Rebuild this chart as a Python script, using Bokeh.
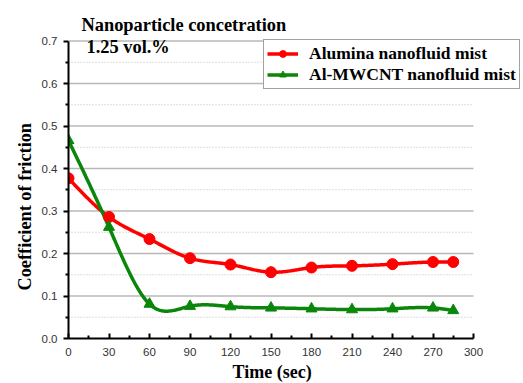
import numpy as np
from bokeh.plotting import figure
from bokeh.models import Range1d, Legend, LegendItem, Label, Title, FixedTicker, NumeralTickFormatter, ColumnDataSource
from bokeh.embed import file_html
from bokeh.resources import INLINE

time_sec = [0, 30, 60, 90, 120, 150, 180, 210, 240, 270, 285]
alumina = [0.377, 0.286, 0.234, 0.189, 0.174, 0.156, 0.167, 0.171, 0.175, 0.180, 0.180]
al_mwcnt = [0.466, 0.262, 0.081, 0.076, 0.075, 0.072, 0.070, 0.068, 0.070, 0.072, 0.066]
series_names = ["Alumina nanofluid mist", "Al-MWCNT nanofluid mist"]
x_ticks = [0, 30, 60, 90, 120, 150, 180, 210, 240, 270, 300]
x_minor = [15, 45, 75, 105, 135, 165, 195, 225, 255, 285]
y_ticks = [0.0, 0.1, 0.2, 0.3, 0.4, 0.5, 0.6, 0.7]
y_minor = [0.05, 0.15, 0.25, 0.35, 0.45, 0.55, 0.65]


def natural_spline(xs, ys, n=400):
    xs = np.asarray(xs, float)
    ys = np.asarray(ys, float)
    k = len(xs)
    h = np.diff(xs)
    A = np.zeros((k, k))
    b = np.zeros(k)
    A[0, 0] = 1
    A[-1, -1] = 1
    for i in range(1, k - 1):
        A[i, i - 1] = h[i - 1]
        A[i, i] = 2 * (h[i - 1] + h[i])
        A[i, i + 1] = h[i]
        b[i] = 3 * ((ys[i + 1] - ys[i]) / h[i] - (ys[i] - ys[i - 1]) / h[i - 1])
    c = np.linalg.solve(A, b)
    xx = np.linspace(xs[0], xs[-1], n)
    idx = np.clip(np.searchsorted(xs, xx, side="right") - 1, 0, k - 2)
    dx = xx - xs[idx]
    hi = h[idx]
    bcoef = (ys[idx + 1] - ys[idx]) / hi - hi * (2 * c[idx] + c[idx + 1]) / 3
    dcoef = (c[idx + 1] - c[idx]) / (3 * hi)
    yy = ys[idx] + bcoef * dx + c[idx] * dx ** 2 + dcoef * dx ** 3
    return xx, yy


SERIF = "Liberation Serif"
SANS = "Liberation Sans"

W, H = 523, 383
left, bottom = 68, 45
x_end = 300 * (W - left) / 405.0
y_end = 0.7 * (H - bottom) / 297.5

p = figure(width=W, height=H, output_backend="svg", toolbar_location=None,
           x_range=Range1d(0, x_end), y_range=Range1d(0, y_end),
           min_border_left=left, min_border_right=0, min_border_top=0, min_border_bottom=bottom)
p.outline_line_color = None

# grid lines, bounded to the data range
p.xgrid.visible = False
p.ygrid.visible = False
grid_src_major = ColumnDataSource(dict(y=y_ticks[1:], x0=[0] * 7, x1=[300] * 7))
grid_src_minor = ColumnDataSource(dict(y=y_minor, x0=[0] * 7, x1=[300] * 7))
p.segment(x0="x0", x1="x1", y0="y", y1="y", source=grid_src_minor,
          line_color="#bdbdbd", line_width=1, line_dash="1 2")
p.segment(x0="x0", x1="x1", y0="y", y1="y", source=grid_src_major,
          line_color="#b8b8b8", line_width=1.5)

# axes
p.xaxis.ticker = FixedTicker(ticks=x_ticks, minor_ticks=x_minor)
p.yaxis.ticker = FixedTicker(ticks=y_ticks, minor_ticks=y_minor)
p.yaxis.formatter = NumeralTickFormatter(format="0.0")
p.xaxis.bounds = (0, 300)
p.yaxis.bounds = (0, 0.7)
for ax in (p.xaxis[0], p.yaxis[0]):
    ax.axis_line_color = "black"
    ax.axis_line_width = 2
    ax.major_tick_line_color = "black"
    ax.minor_tick_line_color = "black"
    ax.major_tick_line_width = 2
    ax.minor_tick_line_width = 2
    ax.major_label_text_font = SANS
    ax.major_label_text_font_size = "11.5px"
    ax.major_label_text_color = "#333333"
p.xaxis.major_tick_in = 5
p.xaxis.major_tick_out = 0
p.xaxis.minor_tick_in = 3
p.xaxis.minor_tick_out = 0
p.xaxis.major_label_standoff = 9
p.yaxis.major_tick_in = 0
p.yaxis.major_tick_out = 5
p.yaxis.minor_tick_in = 0
p.yaxis.minor_tick_out = 3
p.yaxis.major_label_standoff = 6

# axis titles, placed along the bounded axes
xlab = Title(text="Time (sec)", align="left", offset=164, text_font=SERIF, text_font_style="bold",
             text_font_size="18px", text_color="black", standoff=2)
ylab = Title(text="Coefficient of friction", align="left", offset=48, text_font=SERIF, text_font_style="bold",
             text_font_size="18.3px", text_color="black", standoff=8)
p.add_layout(xlab, "below")
p.add_layout(ylab, "left")

red = "#ff0000"
green = "#0a870a"

xa, ya = natural_spline(time_sec, alumina)
xg, yg = natural_spline(time_sec, al_mwcnt)

src = ColumnDataSource(dict(t=time_sec, a=alumina, g=al_mwcnt))

la = p.line(xa, ya, line_color=red, line_width=3.5)
lg = p.line(xg, yg, line_color=green, line_width=3.5)
ma = p.scatter("t", "a", source=src, marker="circle", size=11, fill_color=red, line_color=red)
mg = p.scatter("t", "g", source=src, marker="triangle", size=11, fill_color=green, line_color=green)

legend = Legend(items=[LegendItem(label=series_names[0], renderers=[la, ma]),
                       LegendItem(label=series_names[1], renderers=[lg, mg])],
                location=(195, 249))
legend.label_text_font = SERIF
legend.label_text_font_style = "bold"
legend.label_text_font_size = "17.5px"
legend.label_text_color = "black"
legend.border_line_color = "#444444"
legend.border_line_width = 1
legend.background_fill_alpha = 1
legend.glyph_width = 31
legend.glyph_height = 17
legend.label_height = 17
legend.spacing = 0
legend.padding = 3
legend.margin = 0
legend.label_standoff = 11
p.add_layout(legend)

t1 = Label(x=9.6, y=0.738, text="Nanoparticle concetration", text_font=SERIF, text_font_style="bold",
           text_font_size="18.4px", text_baseline="alphabetic", text_color="black")
t2 = Label(x=13.3, y=0.6854, text="1.25 vol.%", text_font=SERIF, text_font_style="bold",
           text_font_size="18.4px", text_baseline="alphabetic", text_color="black")
p.add_layout(t1)
p.add_layout(t2)

open("out.html", "w").write(file_html(p, INLINE))
